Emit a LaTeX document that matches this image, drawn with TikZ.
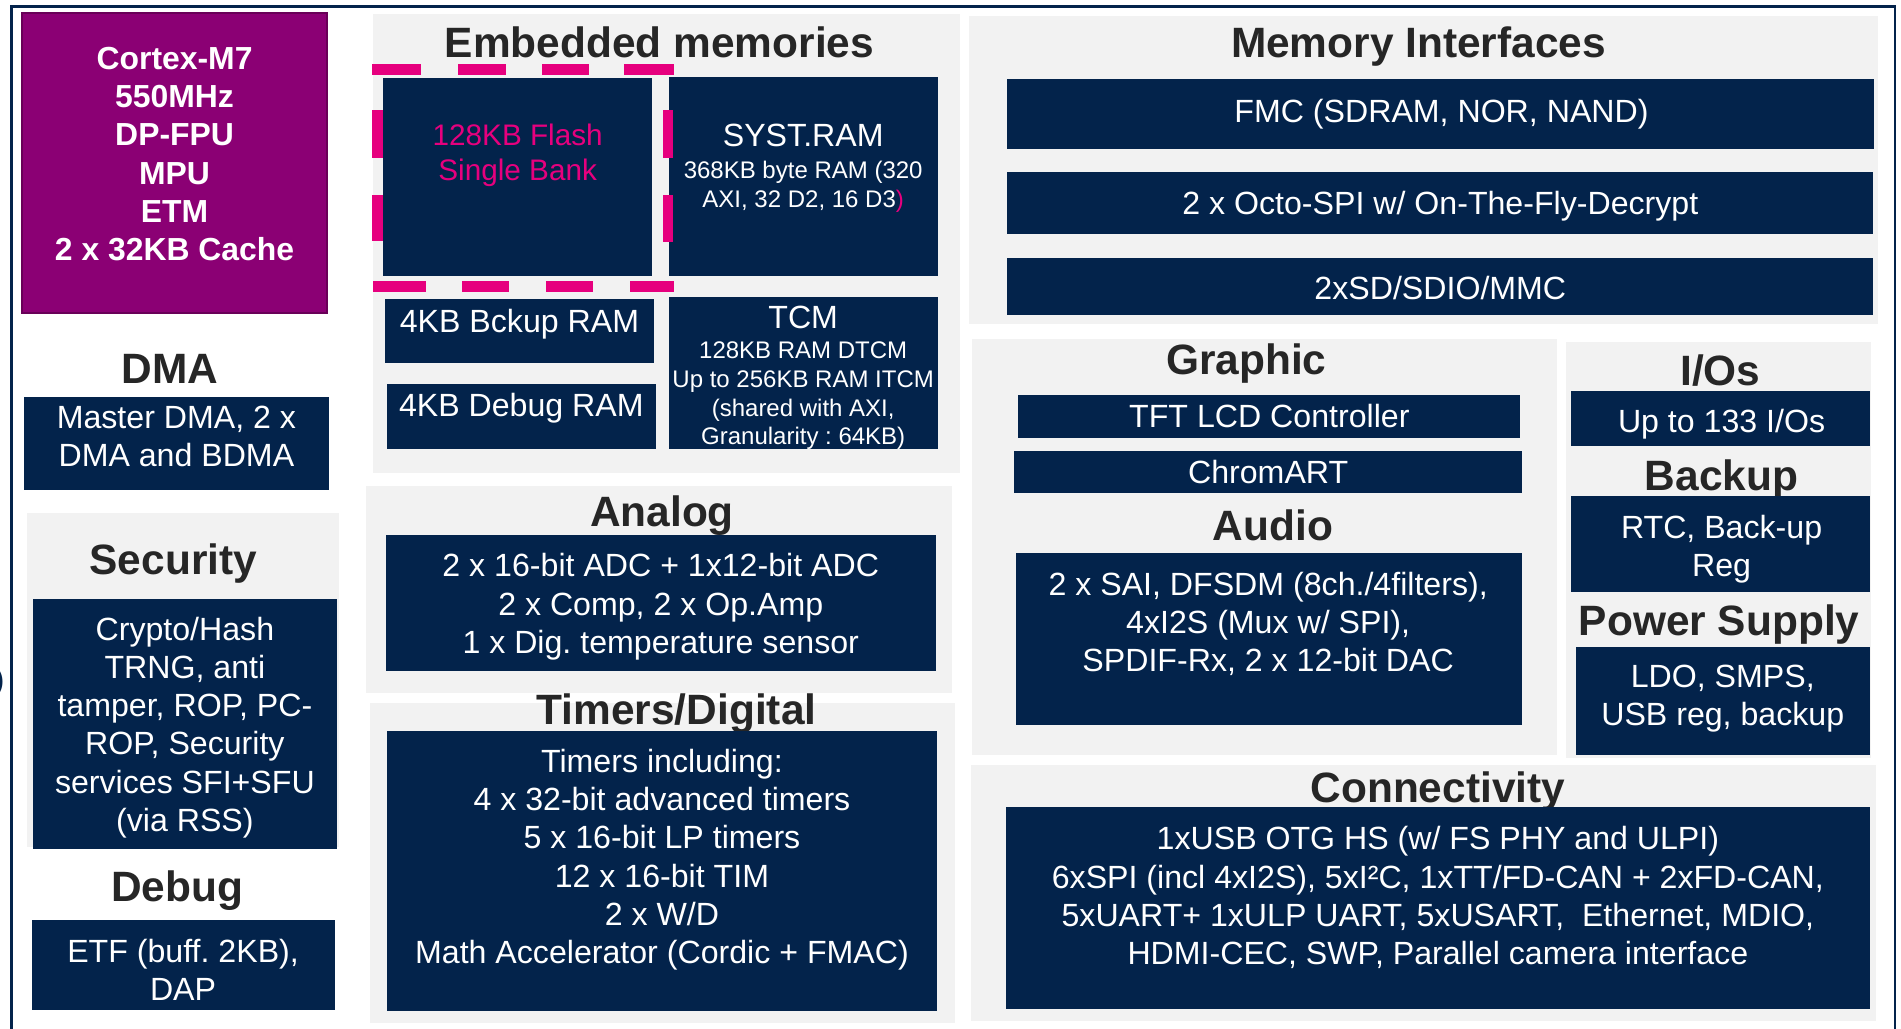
\documentclass[tikz,border=0pt]{standalone}
\usepackage{fontspec}
\setmainfont{Liberation Sans}
\frenchspacing
\definecolor{navy}{RGB}{3,35,75}
\definecolor{panelg}{RGB}{242,242,242}
\definecolor{cpu}{RGB}{139,0,116}
\definecolor{cpuedge}{RGB}{105,0,88}
\definecolor{stpink}{RGB}{230,0,126}
\definecolor{ttlc}{RGB}{38,38,38}
\begin{document}
\begin{tikzpicture}[x=1pt,y=-1pt,
  pnl/.style={fill=panelg},
  dbox/.style={fill=navy},
  dsh/.style={fill=stpink},
  ttl/.style={anchor=north,text=ttlc,font=\bfseries\fontsize{35}{40}\selectfont,inner sep=0pt},
  txt/.style={anchor=north,text=white,font=\fontsize{26.5}{31.6}\selectfont,align=center,inner sep=0pt},
  sml/.style={anchor=north,text=white,font=\fontsize{19.8}{23.6}\selectfont,align=center,inner sep=0pt}]
\useasboundingbox (0,0) rectangle (1568,848);
\fill[white] (0,0) rectangle (1568,848);

% outer frame
\draw[navy,line width=2pt] (9.5,850) -- (9.5,5.5) -- (1563,5.5) -- (1563,850);
\node[anchor=east,text=navy,font=\fontsize{26.5}{30}\selectfont,inner sep=0pt] (paren) at (4,563) {)};

% ---------------- left column
\fill[cpu,draw=cpuedge,line width=1.5pt] (18,11) rectangle (270,258);
\node[txt,font=\bfseries\fontsize{26.3}{31.6}\selectfont] (cpu) at (144,38.5)
  {Cortex-M7\\550MHz\\DP-FPU\\MPU\\ETM\\2 x 32KB Cache};

\node[ttl] (dmat) at (140,292) {DMA};
\fill[dbox] (20,327.5) rectangle (271,404.5);
\node[txt] (dma) at (145.5,334.5) {Master DMA, 2 x\\DMA and BDMA};

\fill[pnl] (22,423) rectangle (280,698.5);
\node[ttl] (sect) at (143,448) {Security};
\fill[dbox] (27,494) rectangle (278,700);
\node[txt] (sec) at (152.5,508.5) {Crypto/Hash\\TRNG, anti\\tamper, ROP, PC-\\ROP, Security\\services SFI+SFU\\(via RSS)};

\node[ttl] (dbgt) at (146,718) {Debug};
\fill[dbox] (26,759) rectangle (276,833);
\node[txt] (dbg) at (151,774.5) {ETF (buff. 2KB),\\DAP};

% ---------------- embedded memories
\fill[pnl] (308,11.5) rectangle (792,390);
\node[ttl] (emt) at (544,22) {Embedded memories};
\fill[dbox] (316,64) rectangle (538,228);
\node[txt,font=\fontsize{24.5}{29}\selectfont,text=stpink] (flash) at (427,102) {128KB Flash\\Single Bank};
\fill[dbox] (552,63.5) rectangle (773.5,228);
\node[txt] (syst) at (662.5,102.5) {SYST.RAM};
\node[sml] (systs) at (662.5,133) {368KB byte RAM (320\\AXI, 32 D2, 16 D3\textcolor{stpink}{)}};
% dashed frame around flash
\fill[dsh] (307,53) rectangle (347,62);
\fill[dsh] (378,53) rectangle (417,62);
\fill[dsh] (447,53) rectangle (486,62);
\fill[dsh] (515,53) rectangle (556,62);
\fill[dsh] (308,232) rectangle (351,241);
\fill[dsh] (381,232) rectangle (420,241);
\fill[dsh] (450,232) rectangle (489,241);
\fill[dsh] (520,232) rectangle (556,241);
\fill[dsh] (307,91) rectangle (315.5,130);
\fill[dsh] (307,161) rectangle (315.5,199);
\fill[dsh] (547,91) rectangle (555.5,130);
\fill[dsh] (547,161) rectangle (555.5,200);

\fill[dbox] (317.5,247) rectangle (539.5,299);
\node[txt] (bck) at (428.5,254.5) {4KB Bckup RAM};
\fill[dbox] (319,317) rectangle (541,370);
\node[txt] (dbr) at (430,324.5) {4KB Debug RAM};
\fill[dbox] (552,245) rectangle (773.5,370.5);
\node[txt] (tcm) at (662.5,252.5) {TCM};
\node[sml] (tcms) at (662.5,282) {128KB RAM DTCM\\Up to 256KB RAM ITCM\\(shared with AXI,\\Granularity : 64KB)};

% ---------------- analog
\fill[pnl] (301.5,401) rectangle (785,571.5);
\node[ttl] (ant) at (546,409) {Analog};
\fill[dbox] (318,441) rectangle (772,553.5);
\node[txt] (an) at (545,456.5) {2 x 16-bit ADC + 1x12-bit ADC\\2 x Comp, 2 x Op.Amp\\1 x Dig. temperature sensor};

% ---------------- timers
\fill[pnl] (305,580) rectangle (788,844);
\node[ttl] (tmt) at (558,572) {Timers/Digital};
\fill[dbox] (319,603) rectangle (773,834);
\node[txt] (tm) at (546,617.5) {Timers including:\\4 x 32-bit advanced timers\\5 x 16-bit LP timers\\12 x 16-bit TIM\\2 x W/D\\Math Accelerator (Cordic + FMAC)};

% ---------------- memory interfaces
\fill[pnl] (799.5,13) rectangle (1549,267);
\node[ttl] (mit) at (1170,22) {Memory Interfaces};
\fill[dbox] (831,65) rectangle (1546,123);
\node[txt] (fmc) at (1189,81.5) {FMC (SDRAM, NOR, NAND)};
\fill[dbox] (831,142) rectangle (1545,193);
\node[txt] (oct) at (1188,157.5) {2 x Octo-SPI w/ On-The-Fly-Decrypt};
\fill[dbox] (831,213) rectangle (1545,260);
\node[txt] (sd) at (1188,227.5) {2xSD/SDIO/MMC};

% ---------------- graphic / audio
\fill[pnl] (802,280) rectangle (1284,623);
\node[ttl] (grt) at (1028,283) {Graphic};
\fill[dbox] (840,326) rectangle (1254,361);
\node[txt] (tft) at (1047,333.5) {TFT LCD Controller};
\fill[dbox] (836,372) rectangle (1255,407);
\node[txt] (chr) at (1046,379.5) {ChromART};
\node[ttl] (aut) at (1050,420) {Audio};
\fill[dbox] (838,456) rectangle (1255,598);
\node[txt] (au) at (1046,471.5) {2 x SAI, DFSDM (8ch./4filters),\\4xI2S (Mux w/ SPI),\\SPDIF-Rx, 2 x 12-bit DAC};

% ---------------- right column
\fill[pnl] (1292,282) rectangle (1543,625);
\node[ttl] (iot) at (1419,292) {I/Os};
\fill[dbox] (1296,322.5) rectangle (1542,367.5);
\node[txt] (io) at (1420,337.5) {Up to 133 I/Os};
\node[ttl] (bkt) at (1420,379) {Backup};
\fill[dbox] (1296,409) rectangle (1542,488);
\node[txt] (bk) at (1420,424.5) {RTC, Back-up\\Reg};
\node[ttl] (pst) at (1418,499) {Power Supply};
\fill[dbox] (1300,533.5) rectangle (1542,623);
\node[txt] (ps) at (1421,548.5) {LDO, SMPS,\\USB reg, backup};

% ---------------- connectivity
\fill[pnl] (800.5,631) rectangle (1547,842.5);
\node[ttl] (cot) at (1186,636) {Connectivity};
\fill[dbox] (830,665.5) rectangle (1542,832);
\node[txt] (co) at (1186,681.5) {1xUSB OTG HS (w/ FS PHY and ULPI)\\6xSPI (incl 4xI2S), 5xI²C, 1xTT/FD-CAN + 2xFD-CAN,\\5xUART+ 1xULP UART, 5xUSART,\ \ Ethernet, MDIO,\\HDMI-CEC, SWP, Parallel camera interface};
\end{tikzpicture}
\end{document}
